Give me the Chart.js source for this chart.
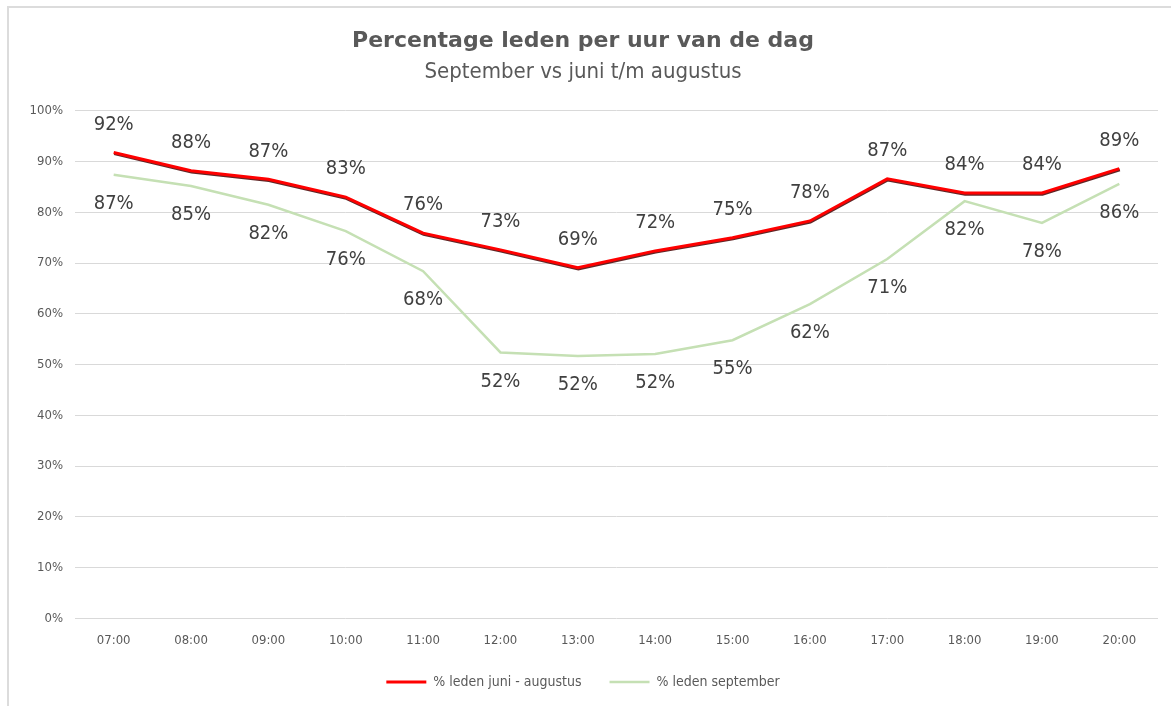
<!DOCTYPE html>
<html>
<head>
<meta charset="utf-8">
<script src="https://cdn.jsdelivr.net/npm/chart.js@4"></script>
<style>
    body { margin: 0; background: #fff; }
    #wrap { position: absolute; left: 0; top: 0; width: 1171px; height: 706px; }
    #frame {
        position: absolute; left: 7px; top: 6px; width: 1162px; height: 702px;
        border-left: 2px solid #dcdcdc; border-top: 2px solid #dcdcdc;
        pointer-events: none;
    }
</style>
</head>
<body>
<div id="wrap"><canvas id="chart"></canvas></div>
<div id="frame"></div>
<script>
// Data
const hours = ['07:00', '08:00', '09:00', '10:00', '11:00', '12:00', '13:00',
               '14:00', '15:00', '16:00', '17:00', '18:00', '19:00', '20:00'];
const summer = [91.8, 88.2, 86.5, 83.0, 75.9, 72.6, 69.1, 72.4, 75.0, 78.3, 86.6, 83.8, 83.8, 88.6];
const september = [87.4, 85.2, 81.5, 76.3, 68.4, 52.4, 51.7, 52.1, 54.8, 61.9, 70.8, 82.2, 77.9, 85.6];
const yTicks = [0, 10, 20, 30, 40, 50, 60, 70, 80, 90, 100];

const grey = '#595959';
const narrow = '"DejaVu Sans Condensed", "DejaVu Sans", sans-serif';

// Excel-like dark shadow under the red line
const shadowPlugin = {
    id: 'lineShadow',
    beforeDatasetDraw(chart, args) {
        if (args.index !== 0) return;
        const ctx = chart.ctx;
        ctx.save();
        ctx.shadowColor = 'rgba(70, 0, 0, 0.85)';
        ctx.shadowOffsetX = 0.5;
        ctx.shadowOffsetY = 1.2;
        ctx.shadowBlur = 0;
    },
    afterDatasetDraw(chart, args) {
        if (args.index !== 0) return;
        chart.ctx.restore();
    }
};

// Value labels: above the red line, below the green line
const labelPlugin = {
    id: 'valueLabels',
    afterDatasetsDraw(chart) {
        const ctx = chart.ctx;
        ctx.save();
        ctx.font = '20px ' + narrow;
        ctx.fillStyle = '#404040';
        ctx.textAlign = 'center';
        ctx.textBaseline = 'middle';
        chart.data.datasets.forEach((ds, i) => {
            const meta = chart.getDatasetMeta(i);
            meta.data.forEach((pt, j) => {
                const dy = i === 0 ? -28 : 29;
                ctx.fillText(Math.round(ds.data[j]) + '%', pt.x, pt.y + dy);
            });
        });
        ctx.restore();
    }
};

const ctx = document.getElementById('chart').getContext('2d');
new Chart(ctx, {
    type: 'line',
    data: {
        labels: hours,
        datasets: [
            {
                label: '% leden juni - augustus',
                data: summer,
                borderColor: '#ff0000',
                backgroundColor: '#ff0000',
                borderWidth: 3,
                pointRadius: 0,
                tension: 0,
            },
            {
                label: '% leden september',
                data: september,
                borderColor: '#c5e0b4',
                backgroundColor: '#c5e0b4',
                borderWidth: 2.5,
                pointRadius: 0,
                tension: 0,
            }
        ]
    },
    options: {
        responsive: true,
        maintainAspectRatio: false,
        animation: false,
        layout: { padding: { left: 8, right: 13, top: 0, bottom: 7 } },
        plugins: {
            title: {
                display: true,
                text: 'Percentage leden per uur van de dag',
                color: grey,
                font: { family: '"DejaVu Sans", sans-serif', size: 22, weight: 'bold' },
                padding: { top: 28, bottom: 5 }
            },
            subtitle: {
                display: true,
                text: 'September vs juni t/m augustus',
                color: grey,
                font: { family: narrow, size: 22 },
                padding: { bottom: 25 }
            },
            legend: {
                position: 'bottom',
                labels: {
                    color: grey,
                    font: { family: narrow, size: 14 },
                    usePointStyle: true,
                    pointStyle: 'line',
                    pointStyleWidth: 40,
                    padding: 28
                }
            },
            tooltip: { enabled: false }
        },
        scales: {
            x: {
                offset: true,
                afterFit(scale) { scale.height -= 7; },
                grid: { display: false },
                border: { display: false },
                ticks: {
                    color: grey,
                    font: { family: narrow, size: 13 },
                    maxRotation: 0,
                    padding: 6
                }
            },
            y: {
                min: 0,
                max: 100,
                afterFit(scale) { scale.width = 67; },
                afterBuildTicks(scale) { scale.ticks = yTicks.map(v => ({ value: v })); },
                grid: { color: '#d9d9d9', lineWidth: 1, drawTicks: false },
                border: { display: false },
                ticks: {
                    color: grey,
                    font: { family: narrow, size: 13 },
                    padding: 12,
                    callback: v => v + '%'
                }
            }
        }
    },
    plugins: [shadowPlugin, labelPlugin]
});
</script>
</body>
</html>
